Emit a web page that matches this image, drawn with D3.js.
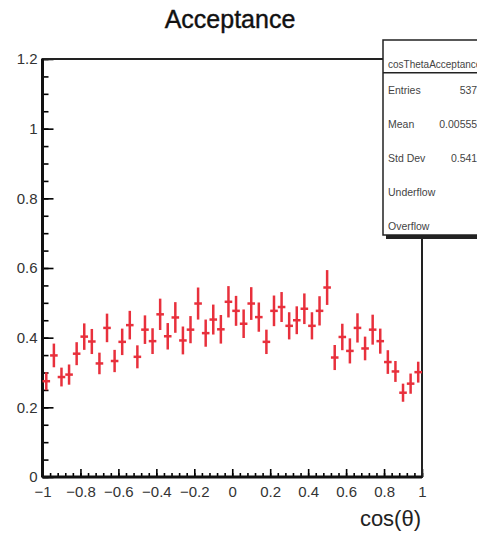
<!DOCTYPE html>
<html>
<head>
<meta charset="utf-8">
<title>Acceptance</title>
<script src="https://cdn.jsdelivr.net/npm/d3@7"></script>
<style>
  body { margin: 0; background: #fff; }
  text { font-family: "Liberation Sans", Arial, Helvetica, sans-serif; }
</style>
</head>
<body>
<div id="chart"></div>
<script>
// histogram binning: 50 bins over cos(theta) in [-1, 1]
var xRange = [-1, 1];
var nBins = 50;
var binCenters = d3.range(nBins).map(function (i) { return xRange[0] + (i + 0.5) * (xRange[1] - xRange[0]) / nBins; });

// acceptance per bin
var acceptance = [0.275, 0.349, 0.287, 0.294, 0.354, 0.403, 0.389, 0.326, 0.428, 0.333,
                  0.388, 0.436, 0.345, 0.423, 0.390, 0.467, 0.404, 0.458, 0.392, 0.423,
                  0.498, 0.413, 0.452, 0.424, 0.503, 0.477, 0.440, 0.498, 0.459, 0.388,
                  0.477, 0.488, 0.434, 0.450, 0.483, 0.434, 0.477, 0.544, 0.343, 0.402,
                  0.362, 0.428, 0.369, 0.423, 0.390, 0.330, 0.303, 0.242, 0.268, 0.301];
var errors = [0.026, 0.034, 0.027, 0.029, 0.033, 0.038, 0.036, 0.031, 0.041, 0.032,
              0.038, 0.041, 0.033, 0.041, 0.037, 0.045, 0.038, 0.044, 0.040, 0.039,
              0.046, 0.039, 0.043, 0.041, 0.045, 0.043, 0.041, 0.047, 0.042, 0.035,
              0.044, 0.043, 0.039, 0.040, 0.044, 0.039, 0.042, 0.050, 0.036, 0.038,
              0.036, 0.042, 0.034, 0.043, 0.036, 0.034, 0.030, 0.026, 0.029, 0.030];

var xMajor = [-1, -0.8, -0.6, -0.4, -0.2, 0, 0.2, 0.4, 0.6, 0.8, 1];
var yMajor = [0, 0.2, 0.4, 0.6, 0.8, 1, 1.2];

var statsTitle = 'cosThetaAcceptance';
var statsNames = ['Entries', 'Mean', 'Std Dev', 'Underflow', 'Overflow'];
var statsValues = ['5370', '0.005553', '0.5417', '0', '0'];

var W = 477, H = 539;
var svg = d3.select('#chart').append('svg').attr('width', W).attr('height', H);

var x = d3.scaleLinear().domain(xRange).range([42.5, 422]);
var y = d3.scaleLinear().domain([0, 1.2]).range([477, 59]);
var fmt = d3.format('~g');

// title
svg.append('text')
    .attr('x', 230).attr('y', 28)
    .attr('text-anchor', 'middle')
    .style('font-size', '25px')
    .style('fill', '#111')
    .style('stroke', '#111').style('stroke-width', 0.4)
    .text('Acceptance');

// minor ticks
var xMinor = d3.range(-1, 1.0001, 0.04).map(function (d) { return +d.toFixed(2); });
var yMinor = d3.range(0, 1.2001, 0.05).map(function (d) { return +d.toFixed(2); });

svg.append('g').attr('transform', 'translate(0,' + y(0) + ')')
    .call(d3.axisBottom(x).tickValues(xMinor).tickSize(-4).tickFormat(''))
    .call(function (g) { g.select('.domain').remove(); g.selectAll('line').attr('stroke-width', 1.6); });
svg.append('g').attr('transform', 'translate(' + x(-1) + ',0)')
    .call(d3.axisLeft(y).tickValues(yMinor).tickSize(-6).tickFormat(''))
    .call(function (g) { g.select('.domain').remove(); g.selectAll('line').attr('stroke-width', 1.6); });

// major ticks and labels
svg.append('g').attr('transform', 'translate(0,' + y(0) + ')')
    .call(d3.axisBottom(x).tickValues(xMajor).tickSize(-8).tickPadding(9).tickFormat(fmt))
    .call(function (g) {
        g.select('.domain').remove();
        g.selectAll('line').attr('stroke-width', 1.6);
        g.selectAll('text').style('font-size', '15px').style('fill', '#333')
            .attr('font-family', null);
    });
svg.append('g').attr('transform', 'translate(' + x(-1) + ',0)')
    .call(d3.axisLeft(y).tickValues(yMajor).tickSize(-11).tickPadding(5).tickFormat(fmt))
    .call(function (g) {
        g.select('.domain').remove();
        g.selectAll('line').attr('stroke-width', 1.6);
        g.selectAll('text').style('font-size', '15px').style('fill', '#333')
            .attr('font-family', null);
    });

// frame
svg.append('rect')
    .attr('x', x(-1)).attr('y', y(1.2))
    .attr('width', x(1) - x(-1)).attr('height', y(0) - y(1.2))
    .attr('fill', 'none').attr('stroke', '#222').attr('stroke-width', 2);
svg.append('line')
    .attr('x1', x(-1)).attr('x2', x(-1)).attr('y1', y(1.2)).attr('y2', y(0))
    .attr('stroke', '#111').attr('stroke-width', 3);
svg.append('line')
    .attr('x1', x(-1)).attr('x2', x(1)).attr('y1', y(0)).attr('y2', y(0))
    .attr('stroke', '#111').attr('stroke-width', 3);

// data points with error bars
var halfBin = (xRange[1] - xRange[0]) / nBins / 2;
var pts = svg.append('g').selectAll('g.pt')
    .data(acceptance)
    .enter().append('g').attr('class', 'pt')
    .attr('stroke', '#e8303c').attr('stroke-width', 2.5);

pts.append('line')
    .attr('x1', function (d, i) { return x(binCenters[i]); })
    .attr('x2', function (d, i) { return x(binCenters[i]); })
    .attr('y1', function (d, i) { return y(d - errors[i]); })
    .attr('y2', function (d, i) { return y(d + errors[i]); });
pts.append('line')
    .attr('x1', function (d, i) { return x(binCenters[i] - halfBin); })
    .attr('x2', function (d, i) { return x(binCenters[i] + halfBin); })
    .attr('y1', function (d) { return y(d); })
    .attr('y2', function (d) { return y(d); });

// x axis title
svg.append('text')
    .attr('x', 421).attr('y', 526)
    .attr('text-anchor', 'end')
    .style('font-size', '22px')
    .style('fill', '#222')
    .text('cos(\u03b8)');

// stats box (runs past the right edge of the canvas, as in the original)
var sb = { x: 383, y: 40, w: 130, h: 195 };
svg.append('rect')
    .attr('x', sb.x + 3).attr('y', sb.y + 3).attr('width', sb.w).attr('height', sb.h + 1)
    .attr('fill', '#222');
svg.append('rect')
    .attr('x', sb.x).attr('y', sb.y).attr('width', sb.w).attr('height', sb.h)
    .attr('fill', '#fff').attr('stroke', '#222').attr('stroke-width', 1.5);
svg.append('line')
    .attr('x1', sb.x).attr('x2', sb.x + sb.w).attr('y1', 72.7).attr('y2', 72.7)
    .attr('stroke', '#222').attr('stroke-width', 1.5);
svg.append('text')
    .attr('x', 388).attr('y', 67.5)
    .style('font-size', '10px').style('fill', '#444')
    .text(statsTitle);

var rowY = d3.scalePoint().domain(statsNames).range([94, 229.5]);
var rows = svg.append('g').selectAll('g.row')
    .data(statsNames)
    .enter().append('g').attr('class', 'row');
rows.append('text')
    .attr('x', 388).attr('y', function (d) { return rowY(d); })
    .style('font-size', '10.5px').style('fill', '#444')
    .text(function (d) { return d; });
rows.append('text')
    .attr('x', 483).attr('y', function (d) { return rowY(d); })
    .attr('text-anchor', 'end')
    .style('font-size', '10.5px').style('fill', '#444')
    .text(function (d, i) { return statsValues[i]; });
</script>
</body>
</html>
